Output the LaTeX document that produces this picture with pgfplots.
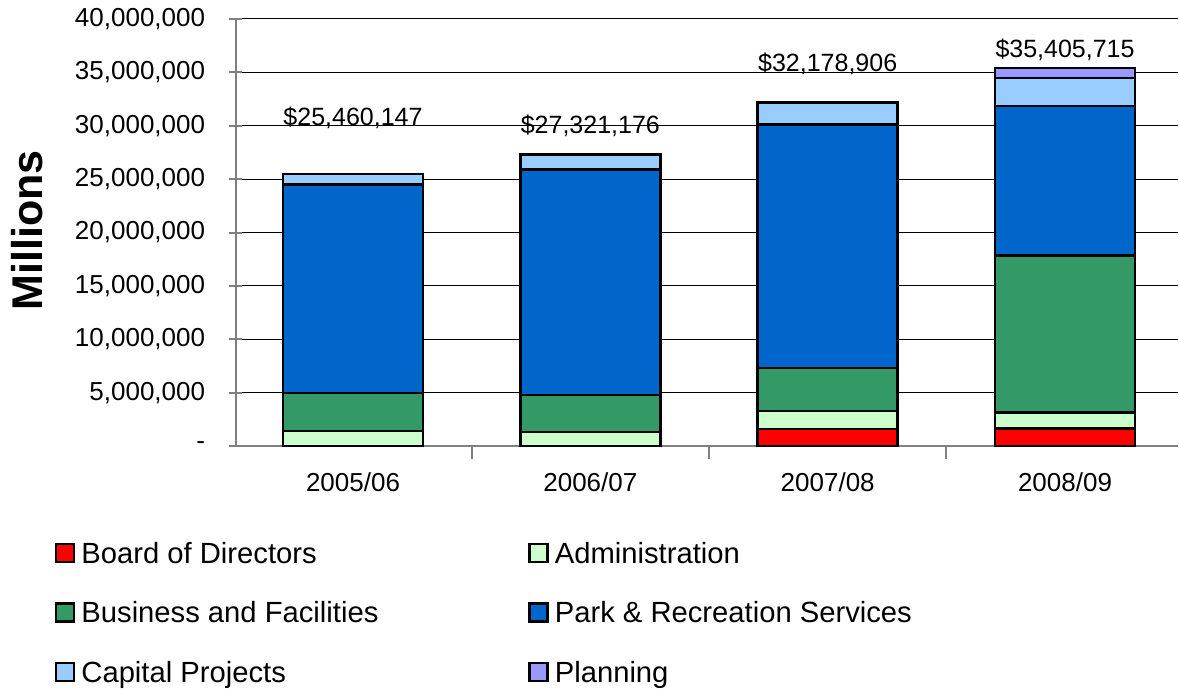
\documentclass[border=0pt]{standalone}
\usepackage{fontspec}
\setmainfont{Liberation Sans}
\usepackage{pgfplots}
\pgfplotsset{compat=1.18}

\definecolor{board}{HTML}{FF0000}
\definecolor{admin}{HTML}{CCFFCC}
\definecolor{business}{HTML}{339966}
\definecolor{park}{HTML}{0066CC}
\definecolor{capital}{HTML}{99CCFF}
\definecolor{planning}{HTML}{9999FF}

\begin{document}
\begin{tikzpicture}
\begin{axis}[
  at={(0,0)}, anchor=south west,
  scale only axis, width=471bp, height=213.5bp,
  ybar stacked, bar width=70bp,
  xmin=-0.493, xmax=3.476, ymin=0, ymax=40000000,
  axis x line*=bottom, axis y line*=left,
  axis line style={draw=gray, line width=1.2bp},
  tick style={draw=gray, line width=1bp},
  xtick align=outside, ytick align=center,
  xtick={0.5,1.5,2.5}, xticklabels={},
  major tick length=6.5bp,
  extra x ticks={0,1,2,3},
  extra x tick labels={2005/06,2006/07,2007/08,2008/09},
  extra x tick style={major tick length=0pt,
    xticklabel style={anchor=base, inner sep=0pt, yshift=-22.5bp}},
  scaled y ticks=false,
  ytick={0,5000000,10000000,15000000,20000000,25000000,30000000,35000000,40000000},
  yticklabels={-,{5,000,000},{10,000,000},{15,000,000},{20,000,000},{25,000,000},{30,000,000},{35,000,000},{40,000,000}},
  yticklabel style={anchor=east, inner sep=0pt, xshift=-12bp},
  tick label style={font=\fontsize{13bp}{15bp}\selectfont},
  /pgf/number format/assume math mode=true,
  ymajorgrids, major grid style={draw=black, line width=0.5bp},
  ylabel={\textbf{Millions}},
  ylabel style={font=\fontsize{21.5bp}{25bp}\selectfont, at={(axis description cs:-0.2222,0.505)}, anchor=center},
  legend columns=2,
  legend image code/.code={\draw[#1] (0bp,-4.5bp) rectangle (9bp,4.5bp);},
  legend style={at={(axis description cs:-0.1921,-0.2257)}, anchor=north west,
    draw=none, fill=none, inner sep=0pt, outer sep=0pt, row sep=19.4bp,
    font=\fontsize{14.6bp}{17bp}\selectfont,
    nodes={inner sep=0pt, text height=10.4bp, text depth=0pt},
    cells={anchor=west},
    /tikz/every odd column/.append style={column sep=3bp},
    /tikz/every even column/.append style={column sep=0pt}},
  every axis plot/.append style={draw=black, line width=1.2bp},
]
\addplot[fill=board] coordinates {(0,0) (1,0) (2,1570000) (3,1650000)};
\addlegendentry{\makebox[223.5bp][l]{Board of Directors}}
\addplot[fill=admin] coordinates {(0,1400000) (1,1300000) (2,1710000) (3,1500000)};
\addlegendentry{Administration}
\addplot[fill=business] coordinates {(0,3540000) (1,3500000) (2,4000000) (3,14680000)};
\addlegendentry{\makebox[223.5bp][l]{Business and Facilities}}
\addplot[fill=park] coordinates {(0,19560000) (1,21120000) (2,22820000) (3,14020000)};
\addlegendentry{Park \& Recreation Services}
\addplot[fill=capital] coordinates {(0,960147) (1,1401176) (2,2078906) (3,2650000)};
\addlegendentry{\makebox[223.5bp][l]{Capital Projects}}
\addplot[fill=planning] coordinates {(0,0) (1,0) (2,0) (3,905715)};
\addlegendentry{Planning}

\node[font=\fontsize{12.5bp}{15bp}\selectfont, anchor=base] at (axis cs:0,30070000) {\$25,460,147};
\node[font=\fontsize{12.5bp}{15bp}\selectfont, anchor=base] at (axis cs:1,29320000) {\$27,321,176};
\node[font=\fontsize{12.5bp}{15bp}\selectfont, anchor=base] at (axis cs:2,35080000) {\$32,178,906};
\node[font=\fontsize{12.5bp}{15bp}\selectfont, anchor=base] at (axis cs:3,36440000) {\$35,405,715};
\end{axis}
\pgfresetboundingbox
\path[use as bounding box] (-118bp,-121.5bp) rectangle (471.5bp,223bp);
\end{tikzpicture}
\end{document}
